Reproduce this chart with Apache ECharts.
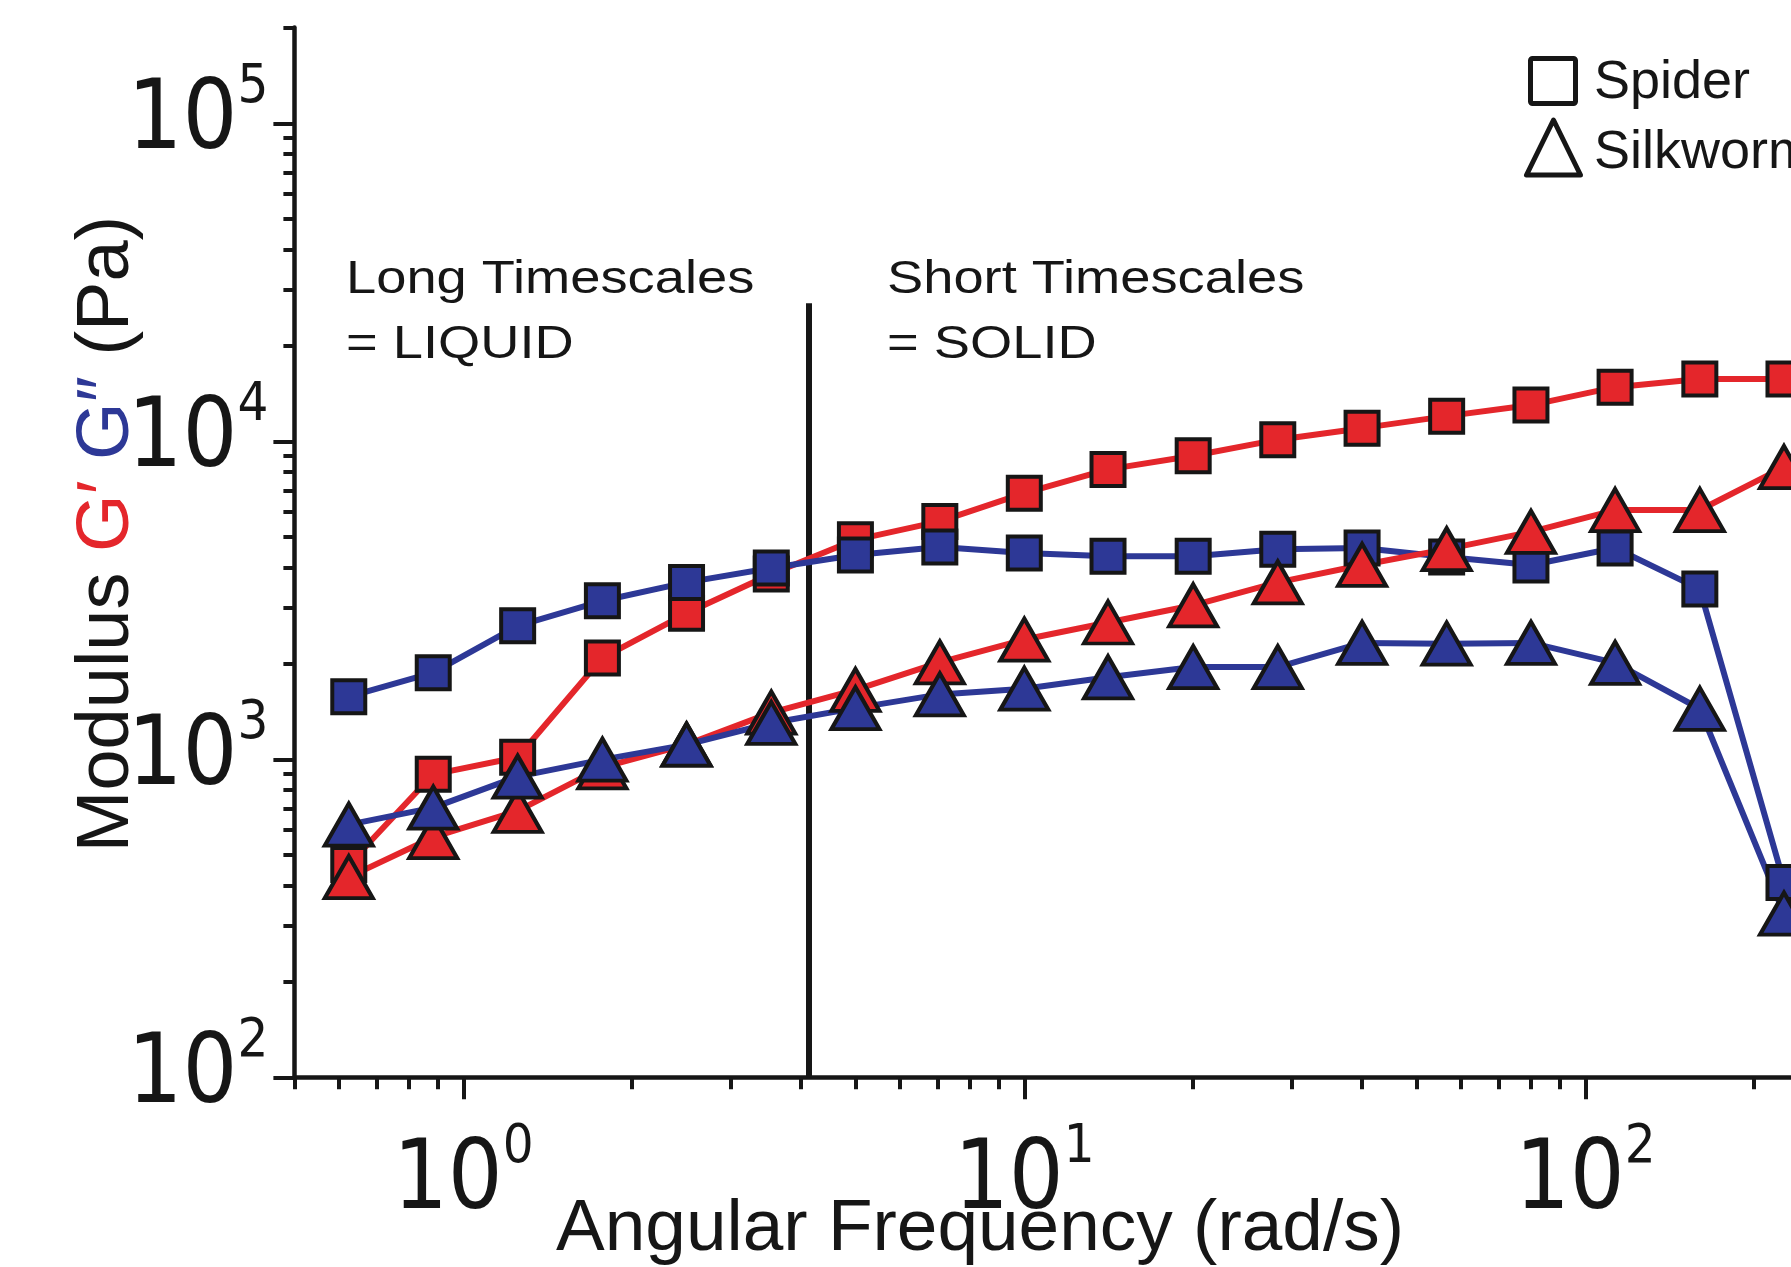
<!DOCTYPE html>
<html><head><meta charset="utf-8">
<script src="https://cdn.jsdelivr.net/npm/echarts@6/dist/echarts.min.js"></script>
<style>html,body{margin:0;padding:0;background:#fff}#c{width:1791px;height:1267px}</style>
</head><body><div id="c"></div>
<script>
// ---- data ----
const freq = [0.625, 0.884, 1.25, 1.77, 2.5, 3.54, 5, 7.07, 10, 14.1, 20, 28.3, 40, 56.6, 80, 113, 160, 226];
const spiderStorage = [467, 897, 1015, 2084, 2878, 3825, 4900, 5600, 6870, 8160, 9010, 10120, 11000, 12000, 13000, 14800, 15700, 15700];
const spiderLoss    = [1574, 1872, 2628, 3152, 3600, 3995, 4390, 4650, 4455, 4350, 4350, 4575, 4620, 4330, 4085, 4620, 3430, 410];
const silkStorage   = [426, 569, 688, 943, 1112, 1402, 1653, 2017, 2380, 2693, 3050, 3600, 4085, 4580, 5190, 6080, 6080, 8300];
const silkLoss      = [623, 705, 882, 998, 1112, 1301, 1449, 1600, 1667, 1811, 1950, 1950, 2323, 2310, 2323, 2010, 1442, 327];
const xMajorTicks = [1, 10, 100];
const xMinorTicks = [0.5, 0.6, 0.7, 0.8, 0.9, 2, 3, 4, 5, 6, 7, 8, 9, 20, 30, 40, 50, 60, 70, 80, 90, 200];
const yMajorTicks = [100, 1000, 10000, 100000];
const yMinorTicks = [200, 300, 400, 500, 600, 700, 800, 900, 2000, 3000, 4000, 5000, 6000, 7000, 8000, 9000,
                     20000, 30000, 40000, 50000, 60000, 70000, 80000, 90000, 200000];
const xRange = [0.5, 232.6];
const yRange = [100, 200000];
const dividerFreq = 4.13;
const dividerTop = 27200;

const RED = '#E4262B', BLUE = '#2D3896', INK = '#161616';
const SANS = '"Liberation Sans", Arial, Helvetica, sans-serif';
const NARROW = '"Liberation Sans Narrow", "Arial Narrow", "DejaVu Sans Condensed", "Liberation Sans", sans-serif';

const pair = (ys) => freq.map((x, i) => [x, ys[i]]);
const powLabel = v => '{b|10}{s|' + Math.round(Math.log10(v)) + '}';
const labelRich = {
  b: { fontFamily: NARROW, fontSize: 96, lineHeight: 124, color: INK },
  s: { fontFamily: NARROW, fontSize: 54, lineHeight: 54, verticalAlign: 'top', color: INK }
};
const axisLineStyle = { color: INK, width: 4.5 };

function sq(name, data, color) {
  return { name, type: 'line', data: pair(data), symbol: 'rect', symbolSize: 33, clip: false,
    lineStyle: { color, width: 6 }, itemStyle: { color, borderColor: INK, borderWidth: 4 } };
}
function tri(name, data, color) {
  return { name, type: 'line', data: pair(data), symbol: 'triangle', symbolSize: [48, 42], clip: false,
    lineStyle: { color, width: 6 }, itemStyle: { color, borderColor: INK, borderWidth: 4 } };
}

const chart = echarts.init(document.getElementById('c'));
const s0 = sq("Spider G'", spiderStorage, RED);
s0.markLine = { silent: true, symbol: ['none', 'none'], label: { show: false }, z: 1,
  lineStyle: { color: INK, width: 6, type: 'solid' },
  data: [[{ coord: [dividerFreq, yRange[0]] }, { coord: [dividerFreq, dividerTop] }]] };

chart.setOption({
  animation: false,
  backgroundColor: '#fff',
  grid: { left: 294.4, top: 27.6, right: 0, height: 1049.7 },
  xAxis: [
    { type: 'log', logBase: 10, min: xRange[0], max: xRange[1], position: 'bottom',
      axisLine: { show: true, lineStyle: axisLineStyle },
      axisTick: { show: true, customValues: xMajorTicks, length: 22, lineStyle: { color: INK, width: 4 } },
      axisLabel: { customValues: xMajorTicks, formatter: powLabel, rich: labelRich, margin: 44, fontSize: 96, fontFamily: NARROW },
      splitLine: { show: false }, minorTick: { show: false } },
    { type: 'log', logBase: 10, min: xRange[0], max: xRange[1], position: 'bottom',
      axisLine: { show: false },
      axisTick: { show: true, customValues: xMinorTicks, length: 12, lineStyle: { color: INK, width: 4 } },
      axisLabel: { show: false }, splitLine: { show: false } }
  ],
  yAxis: [
    { type: 'log', logBase: 10, min: yRange[0], max: yRange[1], position: 'left',
      axisLine: { show: true, lineStyle: axisLineStyle },
      axisTick: { show: true, customValues: yMajorTicks, length: 21, lineStyle: { color: INK, width: 4 } },
      axisLabel: { customValues: yMajorTicks, formatter: powLabel, rich: labelRich, margin: 26, fontSize: 96, fontFamily: NARROW },
      splitLine: { show: false } },
    { type: 'log', logBase: 10, min: yRange[0], max: yRange[1], position: 'left',
      axisLine: { show: false },
      axisTick: { show: true, customValues: yMinorTicks, length: 11, lineStyle: { color: INK, width: 4 } },
      axisLabel: { show: false }, splitLine: { show: false } }
  ],
  series: [
    s0,
    sq("Spider G''", spiderLoss, BLUE),
    tri("Silkworm G'", silkStorage, RED),
    tri("Silkworm G''", silkLoss, BLUE)
  ],
  graphic: [
    { type: 'text', x: 346, y: 280, scaleX: 1.18, style: { text: 'Long Timescales', fontFamily: SANS, fontSize: 46, fill: INK, align: 'left', verticalAlign: 'middle' } },
    { type: 'text', x: 346, y: 345.5, scaleX: 1.18, style: { text: '= LIQUID', fontFamily: SANS, fontSize: 46, fill: INK, align: 'left', verticalAlign: 'middle' } },
    { type: 'text', x: 887, y: 280, scaleX: 1.18, style: { text: 'Short Timescales', fontFamily: SANS, fontSize: 46, fill: INK, align: 'left', verticalAlign: 'middle' } },
    { type: 'text', x: 887, y: 345.5, scaleX: 1.18, style: { text: '= SOLID', fontFamily: SANS, fontSize: 46, fill: INK, align: 'left', verticalAlign: 'middle' } },
    { type: 'rect', shape: { x: 1530.5, y: 58.5, width: 45, height: 45, r: 2 }, style: { fill: '#fff', stroke: INK, lineWidth: 5 } },
    { type: 'polygon', shape: { points: [[1553.5, 120], [1526.5, 175], [1580.5, 175]] }, style: { fill: '#fff', stroke: INK, lineWidth: 5, lineJoin: 'round' } },
    { type: 'text', x: 1594, y: 83, style: { text: 'Spider', fontFamily: SANS, fontSize: 54, fill: INK, align: 'left', verticalAlign: 'middle' } },
    { type: 'text', x: 1594, y: 153, style: { text: 'Silkworm', fontFamily: SANS, fontSize: 54, fill: INK, align: 'left', verticalAlign: 'middle' } },
    { type: 'text', x: 980, y: 1230, style: { text: 'Angular Frequency (rad/s)', fontFamily: SANS, fontSize: 73, fill: INK, align: 'center', verticalAlign: 'middle' } },
    { type: 'text', x: 108, y: 534, rotation: Math.PI / 2,
      style: { text: '{k|Modulus }{r|G′}{k| }{b|G″}{k| (Pa)}', fontFamily: SANS, fontSize: 74, fill: INK, align: 'center', verticalAlign: 'middle',
        rich: { k: { fontFamily: SANS, fontSize: 74, fill: INK }, r: { fontFamily: SANS, fontSize: 74, fill: RED }, b: { fontFamily: SANS, fontSize: 74, fill: BLUE } } } }
  ]
});
</script></body></html>
